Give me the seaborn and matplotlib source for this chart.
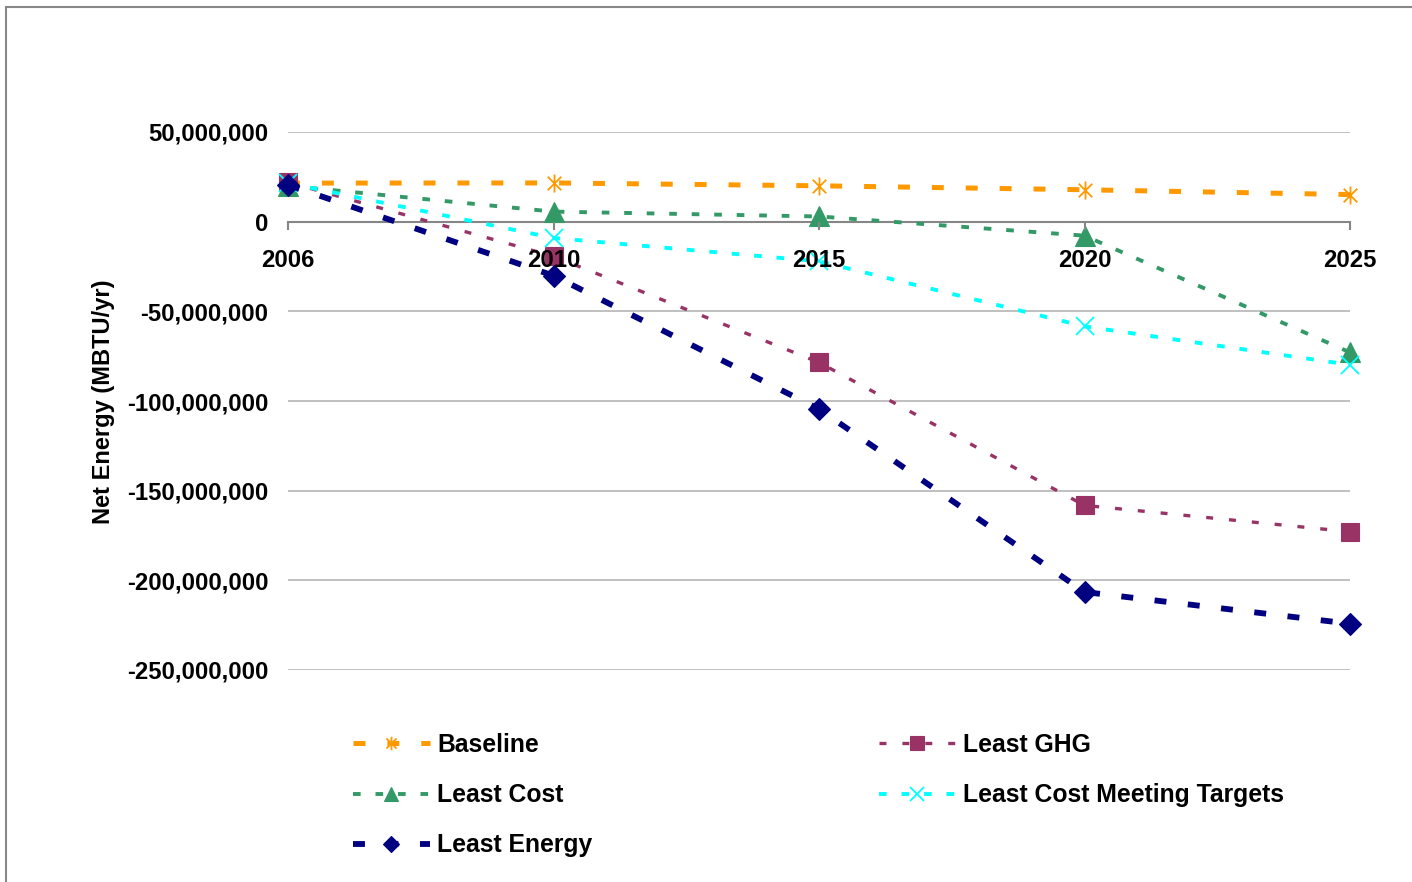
import matplotlib
matplotlib.use("Agg")
import matplotlib.pyplot as plt
import seaborn as sns
from matplotlib.patches import Rectangle
from matplotlib.path import Path
from matplotlib.ticker import FuncFormatter, FixedLocator

# Net energy per scenario (MBTU/yr)
years = ["2006", "2010", "2015", "2020", "2025"]
baseline = [21.5e6, 21.6e6, 20.0e6, 17.8e6, 15.1e6]
least_ghg = [22.0e6, -19.3e6, -78.5e6, -158.2e6, -172.9e6]
least_cost = [20.0e6, 5.6e6, 2.9e6, -7.8e6, -72.9e6]
least_cost_targets = [21.5e6, -9.1e6, -22.1e6, -58.4e6, -79.8e6]
least_energy = [20.5e6, -30.1e6, -104.5e6, -206.5e6, -224.2e6]
y_ticks = [50e6, 0, -50e6, -100e6, -150e6, -200e6, -250e6]

sns.set_theme(style="white")
plt.rcParams["font.family"] = ["Liberation Sans", "DejaVu Sans"]
plt.rcParams["font.weight"] = "bold"
plt.rcParams["text.color"] = "black"
plt.rcParams["axes.labelcolor"] = "black"
plt.rcParams["lines.scale_dashes"] = False

W, H = 1412, 882
fig = plt.figure(figsize=(W / 100, H / 100), dpi=100)
ax = fig.add_axes([288 / W, 1 - 670 / H, (1350 - 288) / W, (670 - 132) / H])

# star marker: an "x" crossed by a vertical stroke
star = Path(
    [(0, -1), (0, 1), (-0.75, -0.75), (0.75, 0.75), (-0.75, 0.75), (0.75, -0.75)],
    [Path.MOVETO, Path.LINETO, Path.MOVETO, Path.LINETO, Path.MOVETO, Path.LINETO],
)

series = [
    ("Baseline", baseline, "#FF9900", star, 13, 3.6, (8.6, 15.8), 1.3),
    ("Least GHG", least_ghg, "#993366", "s", 13, 2.4, (5.0, 11.5), 0.8),
    ("Least Cost", least_cost, "#339966", "^", 14, 2.8, (5.5, 10.7), 0.8),
    ("Least Cost Meeting Targets", least_cost_targets, "#00FFFF", "x", 13, 2.8, (5.5, 10.7), 1.3),
    ("Least Energy", least_energy, "#000080", "D", 11, 4.2, (8.6, 15.5), 0.8),
]

for name, vals, color, marker, ms, lw, dash, mew in series:
    sns.lineplot(
        x=years, y=vals, ax=ax, label=name, color=color,
        marker=marker, markersize=ms, markeredgecolor=color,
        markerfacecolor=color, markeredgewidth=mew,
        linewidth=lw, linestyle=(0, dash), zorder=3, sort=False,
        clip_on=False,
    )

ax.set_xlim(0, len(years) - 1)
ax.set_ylim(-250e6, 50e6)
ax.yaxis.set_major_locator(FixedLocator(y_ticks))
ax.yaxis.set_major_formatter(FuncFormatter(lambda v, p: f"{v:,.0f}"))

for side in ("left", "right", "top"):
    ax.spines[side].set_visible(False)
ax.spines["bottom"].set_position(("data", 0))
ax.spines["bottom"].set_color("#868686")
ax.spines["bottom"].set_linewidth(1.5)

ax.yaxis.grid(True, color="#C0C0C0", linewidth=1.4)
ax.xaxis.grid(False)
ax.tick_params(axis="y", length=0, pad=14, labelsize=17.2, labelcolor="black")
ax.tick_params(axis="x", direction="out", length=6, width=1.5, color="#868686",
               pad=14, labelsize=17.2, bottom=True, labelcolor="black")
ax.xaxis.set_zorder(4)

ax.set_xlabel("")
ax.set_ylabel("Net Energy (MBTU/yr)", fontsize=17, fontweight="bold", color="black")
ax.yaxis.set_label_coords(115 / W, 1 - 402 / H, transform=fig.transFigure)

handles, labels = ax.get_legend_handles_labels()
ax.get_legend().remove()
order = ["Baseline", "Least Cost", "Least Energy", "Least GHG", "Least Cost Meeting Targets"]
hmap = dict(zip(labels, handles))
fig.legend(
    [hmap[k] for k in order], order, loc="upper left",
    bbox_to_anchor=(353 / W, 1 - 733 / H), bbox_transform=fig.transFigure,
    ncol=2, frameon=False, fontsize=17.8, handlelength=3.1, handletextpad=0.3,
    columnspacing=11.6, labelspacing=1.06, borderpad=0, borderaxespad=0,
    markerscale=0.75,
)

fig.patches.append(Rectangle((6 / W, -0.1), 1.2, (1 - 7 / H) + 0.1,
                             transform=fig.transFigure, fill=False,
                             edgecolor="#888888", linewidth=1.5))

fig.savefig("out.png", dpi=100)
